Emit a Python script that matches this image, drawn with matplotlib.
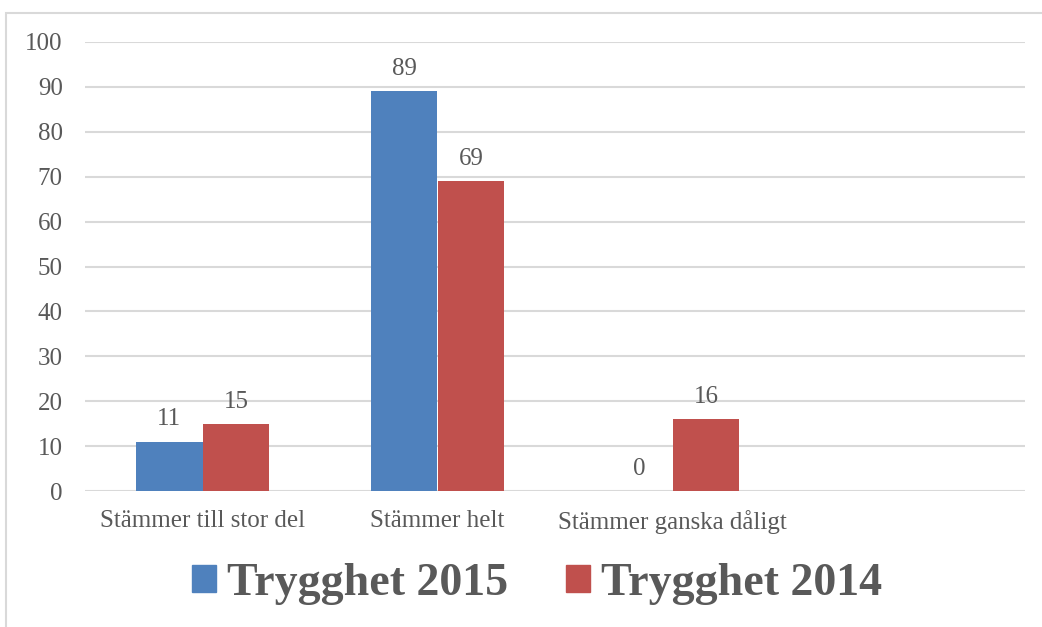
import matplotlib.pyplot as plt
from matplotlib.patches import Rectangle
import numpy as np

categories = ["Stämmer till stor del", "Stämmer helt", "Stämmer ganska dåligt", ""]
trygghet_2015 = [11, 89, 0, None]
trygghet_2014 = [15, 69, 16, None]
series_names = ["Trygghet 2015", "Trygghet 2014"]
yticks = [0, 10, 20, 30, 40, 50, 60, 70, 80, 90, 100]

blue = "#4F81BD"
red = "#C0504D"
text_col = "#595959"
grid_col = "#D9D9D9"

plt.rcParams["font.family"] = ["Liberation Serif", "DejaVu Serif"]

fig = plt.figure(figsize=(10.42, 6.27), dpi=100)
ax = fig.add_axes([85 / 1042, 1 - 491 / 627, 940 / 1042, 449 / 627])

# outer chart border (cut off at right and bottom in the reference)
fig.patches.append(Rectangle((6 / 1042, -0.1), 1.2, 1 - 13 / 627 + 0.1,
                             transform=fig.transFigure, fill=False,
                             edgecolor=grid_col, linewidth=1.5))

x = np.arange(len(categories))
width = 0.285
for vals, offset, color in [(trygghet_2015, -width / 2, blue), (trygghet_2014, width / 2, red)]:
    xs = [xi + offset for xi, v in zip(x, vals) if v is not None]
    vs = [v for v in vals if v is not None]
    ax.bar(xs, vs, width, color=color, zorder=3)
    for xi, v in zip(xs, vs):
        ax.annotate(str(v), (xi, v), xytext=(0, 8), textcoords="offset points",
                    ha="center", va="bottom", fontsize=18, color=text_col)

ax.set_xlim(-0.5, len(categories) - 0.5)
ax.set_ylim(0, 100)
ax.set_yticks(yticks)
ax.set_xticks(x)
ax.set_xticklabels(categories)
ax.yaxis.grid(True, color=grid_col, linewidth=1.5, zorder=0)
ax.set_axisbelow(True)
for s in ax.spines.values():
    s.set_visible(False)
ax.tick_params(axis="both", length=0, labelsize=18, labelcolor=text_col)
ax.tick_params(axis="y", pad=16)
ax.tick_params(axis="x", pad=14)

handles = [Rectangle((0, 0), 1, 1, color=blue), Rectangle((0, 0), 1, 1, color=red)]
leg = fig.legend(handles, series_names, loc="center", bbox_to_anchor=(537 / 1042, 1 - 584 / 627),
                 ncol=2, frameon=False, handlelength=0.52, handleheight=0.52,
                 handletextpad=0.24, columnspacing=1.27,
                 prop={"size": 33, "weight": "bold"})
for t in leg.get_texts():
    t.set_color(text_col)

fig.savefig("out.png", dpi=100)
